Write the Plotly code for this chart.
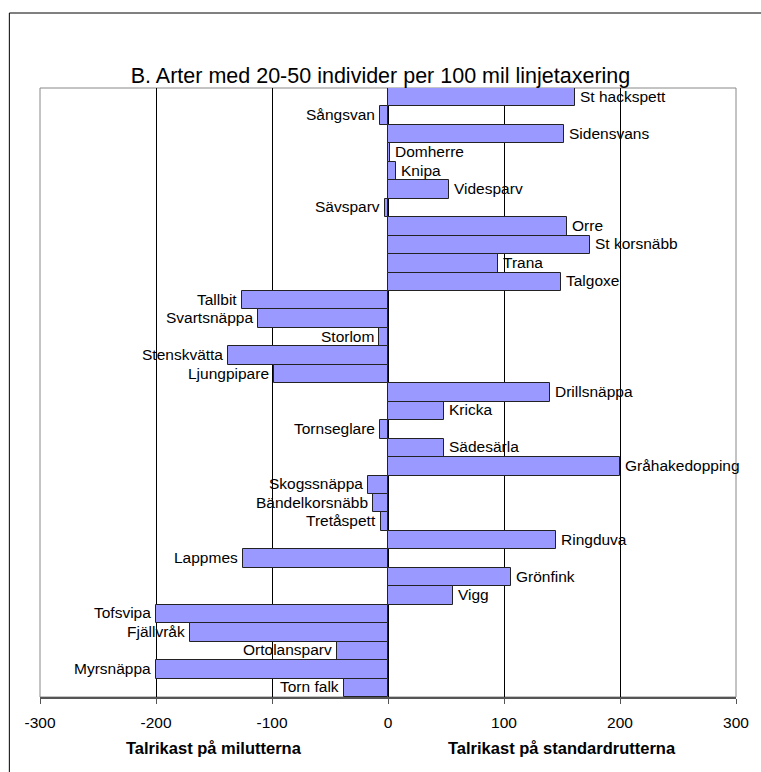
import plotly.graph_objects as go

# Species, top to bottom
species = [
    "St hackspett", "Sångsvan", "Sidensvans", "Domherre", "Knipa", "Videsparv",
    "Sävsparv", "Orre", "St korsnäbb", "Trana", "Talgoxe", "Tallbit",
    "Svartsnäppa", "Storlom", "Stenskvätta", "Ljungpipare", "Drillsnäppa",
    "Kricka", "Tornseglare", "Sädesärla", "Gråhakedopping", "Skogssnäppa",
    "Bändelkorsnäbb", "Tretåspett", "Ringduva", "Lappmes", "Grönfink", "Vigg",
    "Tofsvipa", "Fjällvråk", "Ortolansparv", "Myrsnäppa", "Torn falk",
]
# Negative = more common on the mile routes, positive = on the standard routes
values = [
    161, -7, 152, 2, 7, 53,
    -3, 154, 174, 95, 149, -126,
    -112, -8, -138, -98, 140,
    48, -7, 48, 200, -17,
    -13, -6, 145, -125, 106, 56,
    -200, -171, -44, -200, -38,
]

tick_vals = [-300, -200, -100, 0, 100, 200, 300]
tick_text = ["-300", "-200", "-100", "0", "100", "200", "300"]

title_text = "B. Arter med 20-50 individer per 100 mil linjetaxering"
left_label = "Talrikast på milutterna"
right_label = "Talrikast på standardrutterna"

FONT = "Liberation Sans, Arial, sans-serif"

fig = go.Figure(
    go.Bar(
        x=values,
        y=species,
        orientation="h",
        marker=dict(color="#9999FF", line=dict(color="#222222", width=1)),
        hoverinfo="x+y",
    )
)

# Species name next to the end of each bar
for name, v in zip(species, values):
    fig.add_annotation(
        x=v, y=name, xref="x", yref="y",
        text=name, showarrow=False,
        xanchor="left" if v >= 0 else "right",
        xshift=3 if v >= 0 else -3,
        yshift=1,
        font=dict(family=FONT, size=15.5, color="#000000"),
    )

# Axis captions under each half
for xc, label in [(-150, left_label), (150, right_label)]:
    fig.add_annotation(x=xc, y=0, xref="x", yref="paper",
                       yanchor="middle", yshift=-51,
                       text=f"<b>{label}</b>", showarrow=False,
                       font=dict(family=FONT, size=16.5, color="#000000"))

# Outer chart frame (right and bottom edges lie outside the canvas)
fig.add_shape(type="rect", xref="paper", yref="paper",
              x0=-31 / 704, x1=2.0,
              y0=-1.0, y1=(609 + 75) / 609,
              line=dict(color="#000000", width=1), layer="below")

fig.update_layout(
    width=761, height=772,
    margin=dict(l=40, r=17, t=88, b=75),
    paper_bgcolor="white", plot_bgcolor="white",
    bargap=0,
    showlegend=False,
    title=dict(text=title_text, x=0.5, xanchor="center", y=1 - 75 / 772,
               yanchor="middle",
               font=dict(family=FONT, size=21.5, color="#000000")),
    font=dict(family=FONT, size=15.5, color="#000000"),
    xaxis=dict(
        range=[-300, 300], tickvals=tick_vals, ticktext=tick_text,
        showgrid=True, gridcolor="#000000", gridwidth=1,
        zeroline=True, zerolinecolor="#000000", zerolinewidth=1,
        showline=True, linecolor="#555555", linewidth=2, mirror=False,
        ticks="outside", ticklen=5, tickcolor="#555555",
        ticklabelstandoff=5,
        tickfont=dict(family=FONT, size=15.5, color="#000000"),
    ),
    yaxis=dict(
        categoryorder="array", categoryarray=species[::-1],
        showticklabels=False, showgrid=False, zeroline=False,
        showline=False, range=[-0.5, len(species) - 0.5],
    ),
)

# Thin grey plot-area border
fig.add_shape(type="rect", xref="paper", yref="paper", x0=0, x1=1, y0=0, y1=1,
              line=dict(color="#888888", width=1), layer="below")

fig.write_html("out.html")
